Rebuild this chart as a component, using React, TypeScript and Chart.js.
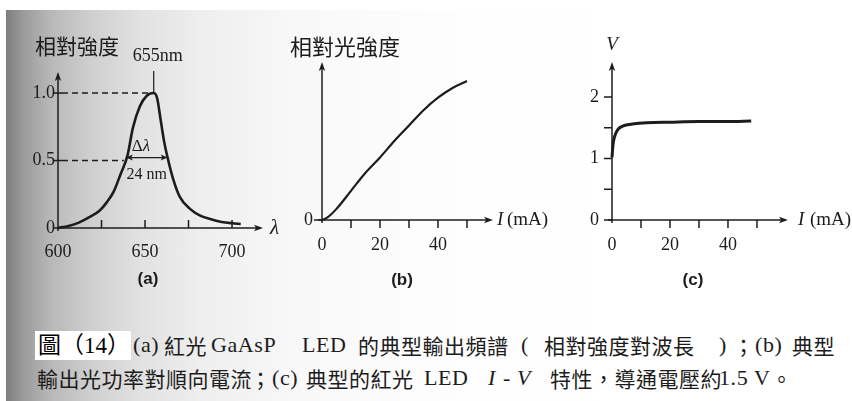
import React, { useEffect, useRef } from "react";
import { Chart, registerables } from "chart.js";

Chart.register(...registerables);

// ---------- (a) emission spectrum of a red GaAsP LED ----------
const wavelengthNm = [600, 606, 612, 618, 624, 628, 632, 636, 640, 643, 647, 651, 655, 657, 659, 661, 663, 666, 670, 676, 682, 688, 694, 700, 705];
const spectrumIntensity = [0, 0.015, 0.04, 0.08, 0.13, 0.19, 0.27, 0.4, 0.54, 0.74, 0.9, 0.98, 1.0, 0.96, 0.8, 0.64, 0.52, 0.37, 0.23, 0.14, 0.09, 0.065, 0.045, 0.035, 0.03];
const spectrumXLabels = [600, 650, 700];
const spectrumXMarks = [625, 650, 675, 700];
const spectrumYLabels = [0, 0.5, 1.0];
const spectrumYText = ["0", "0.5", "1.0"];
const peakNm = 655;
const fwhmStartNm = 639;
const fwhmNm = 24;

// ---------- (b) relative light output vs forward current ----------
const currentB = [0, 2, 5, 10, 15, 20, 25, 30, 35, 40, 45, 50];
const lightOutput = [0, 0.02, 0.08, 0.21, 0.34, 0.45, 0.57, 0.68, 0.79, 0.88, 0.95, 1.0];

// ---------- (c) I-V characteristic ----------
const currentC = [0, 0.3, 0.6, 1, 1.5, 2.2, 3, 4.5, 7, 12, 20, 30, 40, 48];
const voltageC = [1.02, 1.2, 1.3, 1.37, 1.43, 1.48, 1.51, 1.54, 1.56, 1.58, 1.59, 1.6, 1.6, 1.61];

const currentXLabels = [0, 20, 40];
const currentXMarks = [10, 20, 30, 40, 50];
const lightYLabels = [0];
const voltYLabels = [0, 1, 2];
const voltYMarks = [0, 0.5, 1, 1.5, 2];

const INK = "#1c1c1c";
const SERIF = '"Liberation Serif", "Times New Roman", serif';
const CJK = '"Noto Sans CJK TC", "Noto Sans CJK SC", sans-serif';
const SANS = '"Liberation Sans", Arial, sans-serif';

// room reserved for the tick-label strips of each axis
const Y_STRIP = 45;
const X_STRIP = 40;

type Area = { left: number; top: number; right: number; bottom: number };
type PanelSpec = {
  box: { left: number; top: number; width: number; height: number };
  area: Area;
  xRange: [number, number];
  yRange: [number, number];
  xs: number[];
  ys: number[];
  lineWidth: number;
  xLabels: number[];
  xLabelText?: string[];
  yLabels: number[];
  yLabelText?: string[];
  xMarks: number[];
  xMarkUp: boolean;
  yMarks: number[];
  yMarkCross: boolean;
  xPad: number;
  yPad: number;
  extras: (ctx: CanvasRenderingContext2D, chart: any) => void;
};

function seg(ctx: CanvasRenderingContext2D, x1: number, y1: number, x2: number, y2: number) {
  ctx.beginPath();
  ctx.moveTo(x1, y1);
  ctx.lineTo(x2, y2);
  ctx.stroke();
}

function head(ctx: CanvasRenderingContext2D, x: number, y: number, dx: number, dy: number, len = 9, half = 3.2) {
  // filled arrow head pointing along (dx, dy)
  const px = -dy, py = dx;
  ctx.beginPath();
  ctx.moveTo(x, y);
  ctx.lineTo(x - dx * len + px * half, y - dy * len + py * half);
  ctx.lineTo(x - dx * len * 0.75, y - dy * len * 0.75);
  ctx.lineTo(x - dx * len - px * half, y - dy * len - py * half);
  ctx.closePath();
  ctx.fill();
}

function label(ctx: CanvasRenderingContext2D, s: string, x: number, y: number, font: string, align: CanvasTextAlign = "center") {
  ctx.font = font;
  ctx.textAlign = align;
  ctx.textBaseline = "middle";
  ctx.fillStyle = INK;
  ctx.fillText(s, x, y);
}

function axesPlugin(spec: PanelSpec) {
  return {
    id: "panelAxes",
    beforeDatasetsDraw(chart: any) {
      const { ctx, chartArea: a, scales } = chart;
      const x = scales.x, y = scales.y;
      ctx.save();
      ctx.strokeStyle = INK;
      ctx.fillStyle = INK;
      ctx.lineWidth = 1.5;
      seg(ctx, a.left - 4, a.bottom, a.right - 4, a.bottom);
      head(ctx, a.right, a.bottom, 1, 0);
      seg(ctx, a.left, a.bottom + 3, a.left, a.top + 4);
      head(ctx, a.left, a.top, 0, -1);
      for (const v of spec.xMarks) {
        const px = x.getPixelForValue(v);
        if (spec.xMarkUp) seg(ctx, px, a.bottom, px, a.bottom - 8);
        else seg(ctx, px, a.bottom, px, a.bottom + 8);
      }
      for (const v of spec.yMarks) {
        const py = y.getPixelForValue(v);
        if (spec.yMarkCross) seg(ctx, a.left - 5, py, a.left + 4, py);
        else seg(ctx, a.left - 8, py, a.left, py);
      }
      ctx.restore();
    },
    afterDatasetsDraw(chart: any) {
      const { ctx } = chart;
      ctx.save();
      spec.extras(ctx, chart);
      ctx.restore();
    },
  };
}

function buildChart(canvas: HTMLCanvasElement, spec: PanelSpec) {
  const { area, box } = spec;
  const xText = (v: number) => {
    const i = spec.xLabels.indexOf(v);
    return i < 0 ? "" : spec.xLabelText ? spec.xLabelText[i] : String(v);
  };
  const yText = (v: number) => {
    const i = spec.yLabels.indexOf(v);
    return i < 0 ? "" : spec.yLabelText ? spec.yLabelText[i] : String(v);
  };
  const tickFont = { family: SERIF, size: 18 };
  return new Chart(canvas, {
    type: "line",
    data: {
      datasets: [
        {
          data: spec.xs.map((x, i) => ({ x, y: spec.ys[i] })),
          borderColor: INK,
          borderWidth: spec.lineWidth,
          pointRadius: 0,
          fill: false,
          cubicInterpolationMode: "monotone",
          clip: false as any,
        },
      ],
    },
    options: {
      animation: false,
      responsive: false,
      maintainAspectRatio: false,
      events: [],
      layout: {
        padding: {
          left: area.left - Y_STRIP,
          top: area.top,
          right: box.width - area.right,
          bottom: box.height - area.bottom - X_STRIP,
        },
      },
      plugins: { legend: { display: false }, tooltip: { enabled: false }, title: { display: false } },
      scales: {
        x: {
          type: "linear",
          position: "bottom",
          min: spec.xRange[0],
          max: spec.xRange[1],
          grid: { display: false, drawTicks: false },
          border: { display: false },
          afterFit: (s: any) => {
            s.height = X_STRIP;
          },
          afterBuildTicks: (s: any) => {
            s.ticks = spec.xLabels.map((value) => ({ value }));
          },
          ticks: {
            autoSkip: false,
            maxRotation: 0,
            padding: spec.xPad,
            color: INK,
            font: tickFont,
            callback: (v: any) => xText(Number(v)),
          },
        },
        y: {
          type: "linear",
          position: "left",
          min: spec.yRange[0],
          max: spec.yRange[1],
          grid: { display: false, drawTicks: false },
          border: { display: false },
          afterFit: (s: any) => {
            s.width = Y_STRIP;
          },
          afterBuildTicks: (s: any) => {
            s.ticks = spec.yLabels.map((value) => ({ value }));
          },
          ticks: {
            autoSkip: false,
            padding: spec.yPad,
            color: INK,
            font: tickFont,
            callback: (v: any) => yText(Number(v)),
          },
        },
      },
    } as any,
    plugins: [axesPlugin(spec)],
  });
}

const panels: PanelSpec[] = [
  {
    box: { left: 0, top: 0, width: 290, height: 300 },
    area: { left: 58, top: 72, right: 263, bottom: 228 },
    xRange: [600, 717.8],
    yRange: [0, 1.156],
    xs: wavelengthNm,
    ys: spectrumIntensity,
    lineWidth: 2.6,
    xLabels: spectrumXLabels,
    yLabels: spectrumYLabels,
    yLabelText: spectrumYText,
    xMarks: spectrumXMarks,
    xMarkUp: true,
    yMarks: [0.5, 1.0],
    yMarkCross: true,
    xPad: 13,
    yPad: 3,
    extras: (ctx, chart) => {
      const { chartArea: a, scales } = chart;
      const xp = (v: number) => scales.x.getPixelForValue(v);
      const yp = (v: number) => scales.y.getPixelForValue(v);
      ctx.strokeStyle = INK;
      ctx.fillStyle = INK;
      ctx.lineWidth = 1.6;
      ctx.setLineDash([6, 4]);
      seg(ctx, a.left + 4, yp(1), xp(peakNm) - 5, yp(1));
      seg(ctx, a.left + 4, yp(0.5), xp(fwhmStartNm) - 2, yp(0.5));
      ctx.setLineDash([]);
      ctx.lineWidth = 1.2;
      seg(ctx, xp(peakNm), yp(1), xp(peakNm), yp(1) - 22);
      // full width at half maximum
      const yh = yp(0.5) - 3;
      const xl = xp(fwhmStartNm), xr = xp(fwhmStartNm + fwhmNm);
      seg(ctx, xl + 3, yh, xr - 3, yh);
      head(ctx, xl, yh, -1, 0, 7, 3);
      head(ctx, xr, yh, 1, 0, 7, 3);
      const xm = (xl + xr) / 2;
      label(ctx, "Δ", xm - 4, yh - 11, `17px ${SERIF}`, "right");
      label(ctx, "λ", xm - 4, yh - 11, `italic 17px ${SERIF}`, "left");
      label(ctx, `${fwhmNm} nm`, xm, yh + 17, `16px ${SERIF}`);
      label(ctx, `${peakNm}nm`, xp(peakNm) + 4, 56, `18px ${SERIF}`);
      label(ctx, "λ", a.right + 7, a.bottom, `italic 21px ${SERIF}`, "left");
      label(ctx, "相對強度", 35, 46, `21px ${CJK}`, "left");
      label(ctx, "(a)", 148, 279, `bold 17px ${SANS}`);
    },
  },
  {
    box: { left: 270, top: 0, width: 300, height: 300 },
    area: { left: 52, top: 62, right: 223, bottom: 220 },
    xRange: [0, 58.97],
    yRange: [0, 1.137],
    xs: currentB,
    ys: lightOutput,
    lineWidth: 2.2,
    xLabels: currentXLabels,
    yLabels: lightYLabels,
    xMarks: currentXMarks,
    xMarkUp: false,
    yMarks: [0],
    yMarkCross: false,
    xPad: 14,
    yPad: 9,
    extras: (ctx, chart) => {
      const { chartArea: a } = chart;
      label(ctx, "相對光強度", a.left - 32, 47, `22px ${CJK}`, "left");
      label(ctx, "I", a.right + 4, a.bottom, `italic 19px ${SERIF}`, "left");
      label(ctx, "(mA)", a.right + 14, a.bottom, `19px ${SERIF}`, "left");
      label(ctx, "(b)", a.left + 80, 280, `bold 17px ${SANS}`);
    },
  },
  {
    box: { left: 560, top: 0, width: 292, height: 300 },
    area: { left: 52, top: 62, right: 228, bottom: 220 },
    xRange: [0, 60.7],
    yRange: [0, 2.569],
    xs: currentC,
    ys: voltageC,
    lineWidth: 3,
    xLabels: currentXLabels,
    yLabels: voltYLabels,
    xMarks: currentXMarks,
    xMarkUp: false,
    yMarks: voltYMarks,
    yMarkCross: false,
    xPad: 14,
    yPad: 13,
    extras: (ctx, chart) => {
      const { chartArea: a } = chart;
      label(ctx, "V", a.left, 45, `italic 19px ${SERIF}`);
      label(ctx, "I", a.right + 10, a.bottom, `italic 19px ${SERIF}`, "left");
      label(ctx, "(mA)", a.right + 22, a.bottom, `19px ${SERIF}`, "left");
      label(ctx, "(c)", a.left + 81, 280, `bold 17px ${SANS}`);
    },
  },
];

function Panel({ spec }: { spec: PanelSpec }) {
  const ref = useRef<HTMLCanvasElement | null>(null);
  useEffect(() => {
    if (!ref.current) return;
    const chart = buildChart(ref.current, spec);
    return () => chart.destroy();
  }, [spec]);
  const { box } = spec;
  return (
    <canvas
      ref={ref}
      width={box.width}
      height={box.height}
      style={{ position: "absolute", left: box.left, top: box.top, width: box.width, height: box.height }}
    />
  );
}

type Piece = { x: number; t: string; latin?: boolean; italic?: boolean };

const captionLine1: Piece[] = [
  { x: 133, t: "(a)", latin: true },
  { x: 164, t: "紅光" },
  { x: 211, t: "GaAsP", latin: true },
  { x: 302, t: "LED", latin: true },
  { x: 358, t: "的典型輸出頻譜" },
  { x: 521, t: "(", latin: true },
  { x: 544, t: "相對強度對波長" },
  { x: 719, t: ")", latin: true },
  { x: 733, t: "；" },
  { x: 755, t: "(b)", latin: true },
  { x: 792, t: "典型" },
];

const captionLine2: Piece[] = [
  { x: 37, t: "輸出光功率對順向電流" },
  { x: 250, t: "；" },
  { x: 272, t: "(c)", latin: true },
  { x: 306, t: "典型的紅光" },
  { x: 424, t: "LED", latin: true },
  { x: 488, t: "I", latin: true, italic: true },
  { x: 503, t: "-", latin: true },
  { x: 517, t: "V", latin: true, italic: true },
  { x: 550, t: "特性，導通電壓約" },
  { x: 719, t: "1.5 V", latin: true },
  { x: 771, t: "。" },
];

function CaptionLine({ pieces, top }: { pieces: Piece[]; top: number }) {
  return (
    <>
      {pieces.map((p, i) => (
        <span
          key={i}
          style={{
            position: "absolute",
            left: p.x,
            top,
            lineHeight: "22px",
            height: 22,
            whiteSpace: "pre",
            fontFamily: p.latin ? SERIF : CJK,
            fontSize: p.latin ? 22 : 21,
            fontStyle: p.italic ? "italic" : "normal",
            letterSpacing: p.latin ? 0.6 : 0.5,
            color: INK,
          }}
        >
          {p.t}
        </span>
      ))}
    </>
  );
}

export default function App() {
  return (
    <div
      style={{
        position: "fixed",
        left: 0,
        top: 0,
        width: 852,
        height: 401,
        background: "#ffffff",
        overflow: "hidden",
      }}
    >
      <div
        style={{
          position: "absolute",
          left: 6,
          top: 10,
          right: 0,
          bottom: 0,
          background:
            "linear-gradient(to right, #7e7e7e 0px, #9c9c9c 18px, #b8b8b8 45px, #cfcfcf 85px, #e2e2e2 135px, #efefef 200px, #f8f8f8 290px, #fdfdfd 420px, #ffffff 600px)",
        }}
      />
      {panels.map((p, i) => (
        <Panel key={i} spec={p} />
      ))}
      <div style={{ position: "absolute", left: 35, top: 331, width: 96, height: 29, background: "#ffffff" }} />
      <span
        style={{
          position: "absolute",
          left: 38,
          top: 333,
          lineHeight: "25px",
          whiteSpace: "pre",
          fontFamily: `${SERIF.split(",")[0]}, ${CJK}`,
          fontSize: 23,
          color: "#000",
        }}
      >
        圖（14）
      </span>
      <CaptionLine pieces={captionLine1} top={334} />
      <CaptionLine pieces={captionLine2} top={367} />
    </div>
  );
}
